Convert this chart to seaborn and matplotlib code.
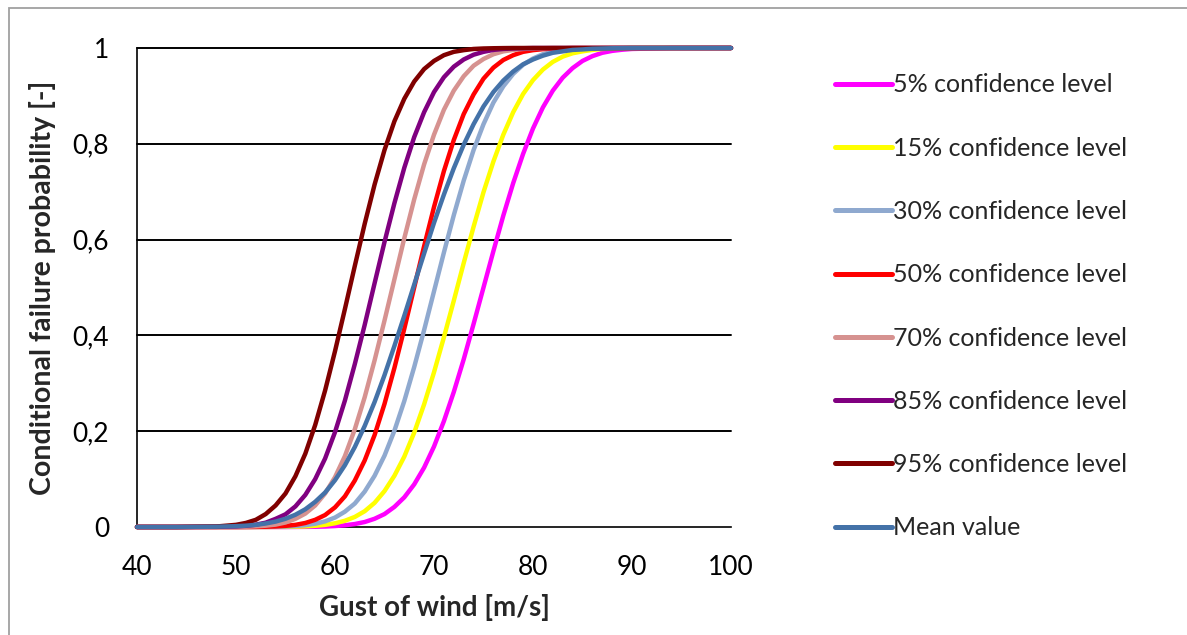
import pandas as pd
import numpy as np
import seaborn as sns
import matplotlib.pyplot as plt
from matplotlib.patches import Rectangle

# wind speed grid (m/s): 40, 44, 48, then 50..90 every 1, then 94, 100
gust = [40, 44, 48,
        50, 51, 52, 53, 54, 55, 56, 57, 58, 59,
        60, 61, 62, 63, 64, 65, 66, 67, 68, 69,
        70, 71, 72, 73, 74, 75, 76, 77, 78, 79,
        80, 81, 82, 83, 84, 85, 86, 87, 88, 89,
        90, 94, 100]

# conditional failure probability
p5 = [0, 0, 0,
      0, 0, 0, 0, 0, 0, 0.0001, 0.0003, 0.0005, 0.001,
      0.002, 0.0036, 0.0062, 0.0104, 0.0172, 0.027, 0.042, 0.062, 0.089, 0.124,
      0.168, 0.221, 0.282, 0.350, 0.424, 0.5, 0.576, 0.650, 0.718, 0.779,
      0.832, 0.876, 0.911, 0.938, 0.958, 0.973, 0.983, 0.990, 0.994, 0.9964,
      0.998, 0.9999, 1]
p15 = [0, 0, 0,
       0, 0, 0, 0, 0.0002, 0.0003, 0.0007, 0.0013, 0.0025, 0.0044,
       0.0078, 0.013, 0.021, 0.033, 0.0505, 0.075, 0.107, 0.147, 0.197, 0.256,
       0.323, 0.396, 0.4725, 0.551, 0.627, 0.699, 0.763, 0.819, 0.866, 0.904,
       0.933, 0.955, 0.971, 0.982, 0.989, 0.993, 0.996, 0.998, 0.999, 0.9995,
       1, 1, 1]
p30 = [0, 0, 0,
       0, 0, 0.0001, 0.0002, 0.0005, 0.001, 0.002, 0.0038, 0.0068, 0.0118,
       0.0197, 0.032, 0.049, 0.074, 0.107, 0.149, 0.201, 0.263, 0.334, 0.411,
       0.492, 0.573, 0.651, 0.723, 0.787, 0.841, 0.886, 0.920, 0.946, 0.965,
       0.978, 0.987, 0.9925, 0.996, 0.998, 0.9988, 0.9994, 0.9997, 1, 1,
       1, 1, 1]
p50 = [0, 0, 0,
       0, 0.0001, 0.0003, 0.0006, 0.0012, 0.0024, 0.0045, 0.0084, 0.015, 0.025,
       0.041, 0.064, 0.097, 0.139, 0.192, 0.257, 0.332, 0.414, 0.5, 0.586,
       0.668, 0.743, 0.808, 0.862, 0.903, 0.936, 0.959, 0.975, 0.985, 0.992,
       0.9955, 0.9976, 0.999, 0.9994, 1, 1, 1, 1, 1, 1,
       1, 1, 1]
p70 = [0, 0, 0.0001,
       0.0003, 0.0006, 0.0013, 0.0027, 0.005, 0.0094, 0.017, 0.028, 0.045, 0.070,
       0.104, 0.148, 0.204, 0.271, 0.348, 0.431, 0.517, 0.603, 0.684, 0.757,
       0.819, 0.871, 0.911, 0.941, 0.963, 0.977, 0.987, 0.993, 0.996, 0.998,
       0.999, 0.9995, 1, 1, 1, 1, 1, 1, 1, 1,
       1, 1, 1]
p85 = [0, 0, 0.0003,
       0.0013, 0.0025, 0.0048, 0.009, 0.017, 0.0265, 0.043, 0.067, 0.100, 0.143,
       0.198, 0.264, 0.340, 0.422, 0.509, 0.595, 0.676, 0.750, 0.814, 0.866,
       0.908, 0.939, 0.961, 0.976, 0.986, 0.992, 0.996, 0.998, 0.999, 0.9995,
       1, 1, 1, 1, 1, 1, 1, 1, 1, 1,
       1, 1, 1]
p95 = [0, 0, 0.001,
       0.0045, 0.0085, 0.015, 0.027, 0.045, 0.070, 0.106, 0.153, 0.213, 0.285,
       0.367, 0.455, 0.545, 0.633, 0.715, 0.787, 0.847, 0.894, 0.930, 0.956,
       0.973, 0.985, 0.992, 0.9955, 0.998, 0.999, 0.9995, 0.9998, 1, 1,
       1, 1, 1, 1, 1, 1, 1, 1, 1, 1,
       1, 1, 1]
mean_val = [0, 0, 0.0006,
            0.0017, 0.0028, 0.0045, 0.0073, 0.0113, 0.0172, 0.0256, 0.037, 0.0526, 0.072,
            0.0977, 0.129, 0.167, 0.211, 0.261, 0.317, 0.378, 0.441, 0.506, 0.571,
            0.635, 0.694, 0.749, 0.798, 0.841, 0.878, 0.908, 0.932, 0.951, 0.966,
            0.976, 0.984, 0.990, 0.993, 0.996, 0.997, 0.9985, 0.999, 0.9995, 0.9997,
            1, 1, 1]

labels = ['5% confidence level', '15% confidence level', '30% confidence level',
          '50% confidence level', '70% confidence level', '85% confidence level',
          '95% confidence level', 'Mean value']
series = [p5, p15, p30, p50, p70, p85, p95, mean_val]
colors = ['#FF00FF', '#FFFF00', '#8FA9CF', '#FF0000', '#D69290', '#800080',
          '#800000', '#4472A8']

y_ticks = [0, 0.2, 0.4, 0.6, 0.8, 1]
y_tick_labels = ['0', '0,2', '0,4', '0,6', '0,8', '1']
x_ticks = [40, 50, 60, 70, 80, 90, 100]

df = pd.concat([pd.DataFrame({'gust': gust, 'prob': s, 'serie': lab})
                for s, lab in zip(series, labels)], ignore_index=True)

sns.set_theme(style="white")
plt.rcParams['font.family'] = ['Lato', 'DejaVu Sans']

fig = plt.figure(figsize=(11.87, 6.35), dpi=100)
ax = fig.add_axes([137 / 1187, 108 / 635, 594 / 1187, 479 / 635])

# horizontal grid lines like excel
for yv in y_ticks[1:]:
    ax.axhline(yv, color='black', lw=1.4, zorder=1)

sns.lineplot(data=df, x='gust', y='prob', hue='serie', hue_order=labels,
             palette=colors, lw=3.2, ax=ax, legend=True, zorder=3)
for ln in ax.get_lines():
    ln.set_clip_on(False)
    ln.set_solid_joinstyle('round')

ax.set_xlim(40, 100)
ax.set_ylim(0, 1)
ax.set_xticks(x_ticks)
ax.set_yticks(y_ticks)
ax.set_yticklabels(y_tick_labels)
ax.tick_params(axis='both', labelsize=19, length=0, pad=20, colors='black')
for s in ['top', 'right']:
    ax.spines[s].set_visible(False)
for s in ['left', 'bottom']:
    ax.spines[s].set_color('black')
    ax.spines[s].set_linewidth(1.2)

ax.set_xlabel('Gust of wind [m/s]', fontsize=20, fontweight='bold', labelpad=10)
ax.set_ylabel('Conditional failure probability [-]', fontsize=20.5,
              fontweight='bold', labelpad=12)

leg = ax.legend(loc='upper left', bbox_to_anchor=(812 / 1187, 1 - 51 / 635),
                bbox_transform=fig.transFigure, frameon=False, fontsize=18,
                handlelength=2.3, handletextpad=0.05, labelspacing=1.61)
for h in leg.get_lines():
    h.set_linewidth(3.6)
    h.set_solid_capstyle('round')

# thin grey frame around chart area
fig.patches.append(Rectangle((9 / 1187, -0.1), 1.2, 1 - 8 / 635 + 0.1,
                             transform=fig.transFigure, fill=False,
                             edgecolor='#A0A0A0', lw=1.3))

fig.savefig('out.png', dpi=100)
